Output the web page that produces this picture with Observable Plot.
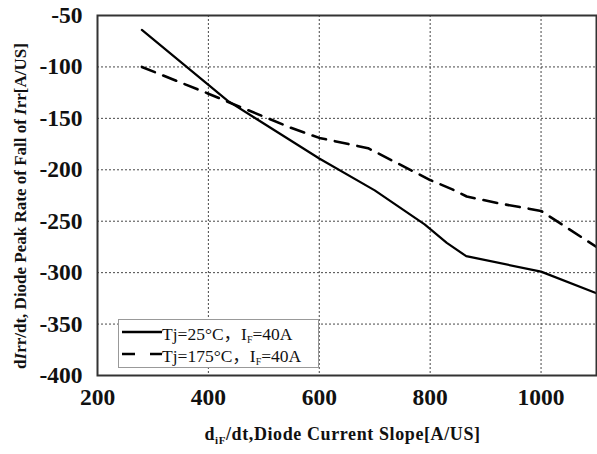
<!DOCTYPE html>
<html>
<head>
<meta charset="utf-8">
<script src="https://cdn.jsdelivr.net/npm/d3@7"></script>
<script src="https://cdn.jsdelivr.net/npm/@observablehq/plot@0.6"></script>
<style>
  html, body { margin: 0; padding: 0; background: #fff; }
  #wrap { position: relative; width: 597px; height: 454px; font-family: "Liberation Serif", "Times New Roman", serif; }
  #wrap svg text { font-family: "Liberation Serif", "Times New Roman", serif; }
  #legend { position: absolute; background: #fff; border: 1px solid #999; box-sizing: border-box; font-family: "Liberation Serif", "Noto Sans CJK SC", serif; font-size: 17.5px; color: #111; padding: 1px 2px; }
  #legend .row { display: flex; align-items: center; height: 22px; white-space: nowrap; }
  #legend sub { font-size: 10px; vertical-align: -3px; }
</style>
</head>
<body>
<div id="wrap"></div>
<script>
// Data
const series25X = [280, 435, 600, 700, 790, 830, 865, 1000, 1100];
const series25Y = [-64, -133, -189, -220, -253, -271, -284, -299, -320];
const series175X = [280, 400, 440, 548, 600, 688, 800, 840, 866, 928, 1000, 1100];
const series175Y = [-100, -126, -135, -159, -169, -179, -210, -219, -226, -233, -240, -275];
const xTicks = [200, 400, 600, 800, 1000];
const yTicks = [-50, -100, -150, -200, -250, -300, -350, -400];
const seriesNames = ["Tj=25°C，I_F=40A", "Tj=175°C，I_F=40A"];

const data25 = series25X.map((x, i) => ({x, y: series25Y[i]}));
const data175 = series175X.map((x, i) => ({x, y: series175Y[i]}));

const FONT = "'Liberation Serif', 'Times New Roman', serif";
const W = 597, H = 454;
const plot = Plot.plot({
  width: W, height: H,
  marginLeft: 97, marginTop: 15, marginRight: 1, marginBottom: 79,
  style: { fontFamily: FONT, background: "white", color: "#111" },
  x: { domain: [200, 1100] },
  y: { domain: [-400, -50] },
  marks: [
    Plot.gridX(xTicks.filter(d => d > 200 && d < 1100), {stroke: "#333", strokeOpacity: 0.9, strokeDasharray: "2,2", strokeWidth: 1}),
    Plot.gridY(yTicks.filter(d => d > -400 && d < -50), {stroke: "#333", strokeOpacity: 0.9, strokeDasharray: "2,2", strokeWidth: 1}),
    Plot.line(data25, {x: "x", y: "y", stroke: "#000", strokeWidth: 2.2}),
    Plot.line(data175, {x: "x", y: "y", stroke: "#000", strokeWidth: 2.6, strokeDasharray: "14,9"}),
    Plot.frame({stroke: "#333", strokeWidth: 2}),
    Plot.axisX(xTicks, {tickSize: 0, tickPadding: 13, fontSize: 23.5, fontWeight: "bold", fontFamily: FONT, tickFormat: d => String(d), label: null}),
    Plot.axisY(yTicks, {tickSize: 0, tickPadding: 15, fontSize: 23.5, fontWeight: "bold", fontFamily: FONT, tickFormat: d => String(d), label: null})
  ]
});

const wrap = document.getElementById("wrap");
wrap.appendChild(plot);

const sx = plot.scale("x"), sy = plot.scale("y");
const svg = d3.select(plot);

// X axis label
const xl = svg.append("text")
  .attr("x", (sx.apply(200) + sx.apply(1100)) / 2 - 4)
  .attr("y", 440)
  .attr("text-anchor", "middle")
  .attr("font-size", 18)
  .attr("letter-spacing", 0.6)
  .attr("font-weight", "bold")
  .attr("font-family", FONT)
  .attr("fill", "#111");
xl.append("tspan").text("d");
xl.append("tspan").attr("font-size", 11).attr("dy", 4).text("iF");
xl.append("tspan").attr("dy", -4).text("/dt,Diode Current Slope[A/US]");

// Y axis label
const yc = (sy.apply(-50) + sy.apply(-400)) / 2 + 11;
const yl = svg.append("text")
  .attr("transform", `translate(26,${yc}) rotate(-90)`)
  .attr("text-anchor", "middle")
  .attr("font-size", 17)
  .attr("font-weight", "bold")
  .attr("font-family", FONT)
  .attr("fill", "#111");
yl.append("tspan").text("d");
yl.append("tspan").attr("font-style", "italic").text("I");
yl.append("tspan").text("rr/dt, Diode Peak Rate of Fall of ");
yl.append("tspan").attr("font-style", "italic").text("I");
yl.append("tspan").text("rr[A/US]");

// Legend (HTML overlay)
const leg = document.createElement("div");
leg.id = "legend";
leg.style.left = "118px";
leg.style.top = "319px";
leg.style.width = "201px";
leg.style.height = "49px";
const dashes = [null, "13,15"];
seriesNames.forEach((name, i) => {
  const row = document.createElement("div");
  row.className = "row";
  const parts = name.split("I_F");
  row.innerHTML = `<svg width="41" height="10" style="margin-right:0px"><line x1="1" y1="5" x2="41" y2="5" stroke="#000" stroke-width="2.6" ${dashes[i] ? `stroke-dasharray="${dashes[i]}"` : ""}/></svg><span>${parts[0]}I<sub>F</sub>${parts[1]}</span>`;
  leg.appendChild(row);
});
wrap.appendChild(leg);
</script>
</body>
</html>
